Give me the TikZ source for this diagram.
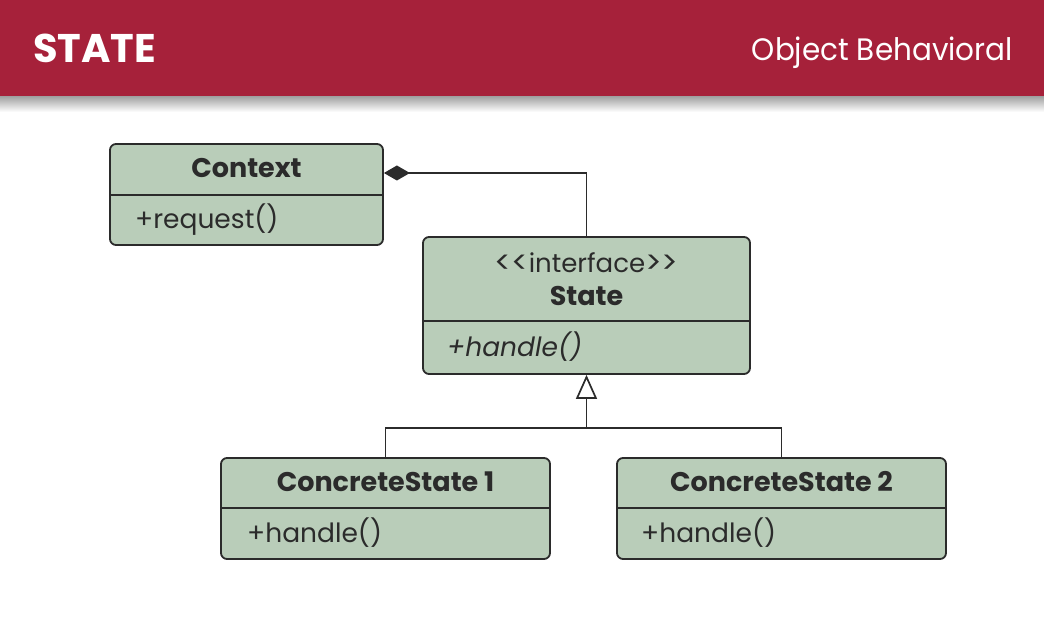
\documentclass[tikz,border=0pt]{standalone}
\usepackage{fontspec}
\setmainfont{Poppins}
\newfontfamily\hdrfont[FakeStretch=0.95]{Poppins}
\usetikzlibrary{arrows.meta}
\definecolor{hdrred}{HTML}{A6213A}
\definecolor{boxfill}{HTML}{B9CDB9}
\definecolor{ink}{HTML}{2B2B2B}
\newcommand{\bigangle}[1]{{\fontsize{31}{30}\selectfont\raisebox{-0.5pt}{#1}}}
\tikzset{
  umlbox/.style={draw=ink, fill=boxfill, line width=1.8pt, rounded corners=6pt, inner sep=0pt},
  ttl/.style={font=\fontsize{27}{30}\selectfont\bfseries, text=ink, inner sep=0pt},
  op/.style={font=\fontsize{26.5}{30}\selectfont, text=ink, inner sep=0pt, anchor=west},
  conn/.style={draw=ink, line width=1.7pt},
  comp/.style={conn, {Diamond[length=26pt,width=15pt]}-},
  inh/.style={conn, -{Triangle[open,length=24pt,width=21pt,line width=1.7pt]}}
}
\begin{document}
\begin{tikzpicture}[x=1pt,y=-1pt]
\useasboundingbox (0,0) rectangle (1044,620);
\fill[white] (0,0) rectangle (1044,620);
% header
\shade[top color=black!40, bottom color=white] (0,95) rectangle (1044,112);
\fill[hdrred] (0,0) rectangle (1044,96);
\node[anchor=base west, text=white, inner sep=0pt, font=\fontsize{40}{44}\selectfont\bfseries] (ttlA) at (33,63) {STATE};
\node[anchor=base east, text=white, inner sep=0pt, font=\hdrfont\fontsize{31}{36}\selectfont] (ttlB) at (1013,61) {Object Behavioral};
% boxes
\node[umlbox, minimum width=273pt, minimum height=101pt] (ctx) at (246.5,194.5) {};
\node[umlbox, minimum width=327pt, minimum height=137pt] (state) at (586.5,305.5) {};
\node[umlbox, minimum width=329pt, minimum height=101pt] (cs1) at (385.5,508.5) {};
\node[umlbox, minimum width=329pt, minimum height=101pt] (cs2) at (781.5,508.5) {};
% dividers
\draw[ink, line width=1.7pt] (ctx.west |- 0,195) -- (ctx.east |- 0,195);
\draw[ink, line width=1.7pt] (state.west |- 0,321) -- (state.east |- 0,321);
\draw[ink, line width=1.7pt] (cs1.west |- 0,508) -- (cs1.east |- 0,508);
\draw[ink, line width=1.7pt] (cs2.west |- 0,508) -- (cs2.east |- 0,508);
% texts
\node[ttl] (ctxT) at (246.5,168) {Context};
\node[op] (ctxO) at (135,220) {+request()};
\node[op, anchor=center, font=\fontsize{26}{30}\selectfont] (stS) at (586.5,263) {\bigangle{<\kern0pt<}interface\bigangle{>\kern0pt>}};
\node[ttl] (stT) at (586.5,296) {State};
\node[op, font=\fontsize{26.5}{30}\selectfont\itshape] (stO) at (447,347) {+handle()};
\node[ttl] (c1T) at (385.5,482) {ConcreteState 1};
\node[op] (c1O) at (247,533) {+handle()};
\node[ttl] (c2T) at (781.5,482) {ConcreteState 2};
\node[op] (c2O) at (641,533) {+handle()};
% connectors
\draw[comp] ([yshift=21.5pt]ctx.east) -| (state.north);
\coordinate (j) at (state.south |- 0,428);
\draw[conn] (cs1.north) |- (j) -| (cs2.north);
\draw[inh] (j) -- (state.south);
\end{tikzpicture}
\end{document}
